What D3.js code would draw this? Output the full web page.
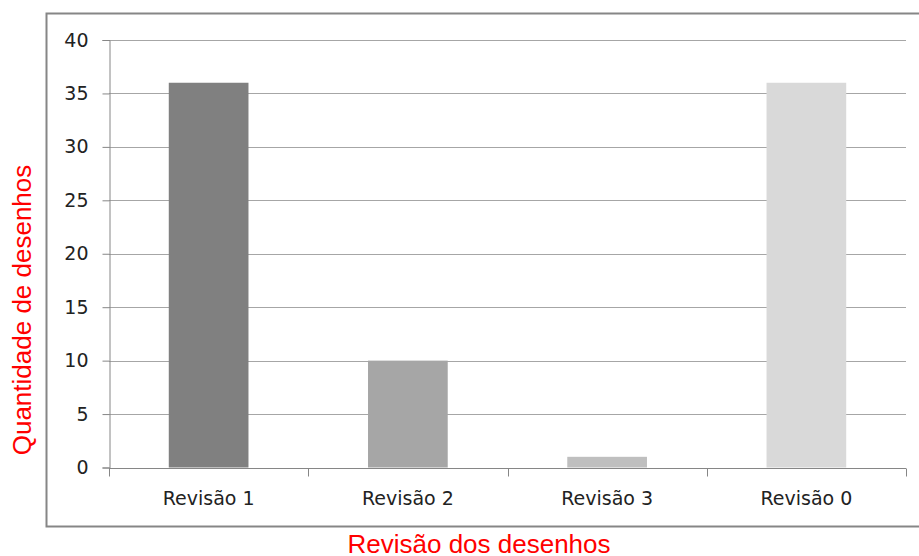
<!DOCTYPE html>
<html>
<head>
<meta charset="utf-8">
<script src="https://cdn.jsdelivr.net/npm/d3@7"></script>
<style>
  html, body { margin: 0; padding: 0; background: #fff; }
  svg { display: block; }
</style>
</head>
<body>
<svg id="chart" width="919" height="556"></svg>
<script>
// Drawings per revision
const categories = ["Revisão 1", "Revisão 2", "Revisão 3", "Revisão 0"];
const values = [36, 10, 1, 36];
const barColors = ["#808080", "#a6a6a6", "#bfbfbf", "#d9d9d9"];
const yTicks = [0, 5, 10, 15, 20, 25, 30, 35, 40];
const xTitle = "Revisão dos desenhos";
const yTitle = "Quantidade de desenhos";

const svg = d3.select("#chart");
const W = 919, H = 556;
const plot = { left: 109, right: 906, top: 40, bottom: 467.5 };

svg.append("rect").attr("width", W).attr("height", H).attr("fill", "#fff");

// chart frame
svg.append("rect")
  .attr("x", 46.5).attr("y", 13.5)
  .attr("width", 880).attr("height", 513)
  .attr("fill", "none").attr("stroke", "#868686").attr("stroke-width", 2);

const x = d3.scaleBand().domain(categories).range([plot.left, plot.right]).padding(0);
const y = d3.scaleLinear().domain([0, 40]).range([plot.bottom, plot.top]);

// horizontal gridlines
svg.append("g").selectAll("line").data(yTicks.filter(t => t > 0)).join("line")
  .attr("x1", plot.left).attr("x2", plot.right)
  .attr("y1", d => Math.round(y(d)) + 0.5).attr("y2", d => Math.round(y(d)) + 0.5)
  .attr("stroke", "#a6a6a6").attr("stroke-width", 1);

// bars
const bw = x.bandwidth() * 0.4;
svg.append("g").selectAll("rect").data(categories).join("rect")
  .attr("x", d => x(d) + (x.bandwidth() - bw) / 2)
  .attr("y", (d, i) => y(values[i]))
  .attr("width", bw)
  .attr("height", (d, i) => y(0) - y(values[i]))
  .attr("fill", (d, i) => barColors[i]);

// y axis
const yAxis = svg.append("g")
  .attr("transform", `translate(${plot.left + 0.5},0)`)
  .call(d3.axisLeft(y).tickValues(yTicks).tickSize(7).tickPadding(14));
yAxis.select(".domain").attr("stroke", "#868686");
yAxis.selectAll(".tick line").attr("stroke", "#868686");
yAxis.selectAll(".tick text")
  .attr("font-family", "DejaVu Sans").attr("font-size", 19).attr("fill", "#222");

// x axis with tick marks at category boundaries
const xAxis = svg.append("g").attr("transform", `translate(0,${Math.round(y(0)) + 0.5})`);
xAxis.append("line")
  .attr("x1", plot.left).attr("x2", plot.right)
  .attr("stroke", "#868686");
const bounds = categories.map(c => x(c)).concat([plot.right]);
xAxis.selectAll("line.bt").data(bounds).join("line").attr("class", "bt")
  .attr("x1", d => Math.round(d) + 0.5).attr("x2", d => Math.round(d) + 0.5)
  .attr("y1", 0).attr("y2", 8)
  .attr("stroke", "#868686");
xAxis.selectAll("text").data(categories).join("text")
  .attr("x", d => x(d) + x.bandwidth() / 2)
  .attr("y", 36)
  .attr("text-anchor", "middle")
  .attr("font-family", "DejaVu Sans").attr("font-size", 19).attr("fill", "#222")
  .text(d => d);

// axis titles
svg.append("text")
  .attr("x", 479).attr("y", 553)
  .attr("text-anchor", "middle")
  .attr("font-family", "Liberation Sans").attr("font-size", 26).attr("fill", "#ff0000")
  .text(xTitle);

svg.append("text")
  .attr("transform", "translate(31,310) rotate(-90)")
  .attr("text-anchor", "middle")
  .attr("font-family", "Liberation Sans").attr("font-size", 26).attr("fill", "#ff0000")
  .text(yTitle);
</script>
</body>
</html>
